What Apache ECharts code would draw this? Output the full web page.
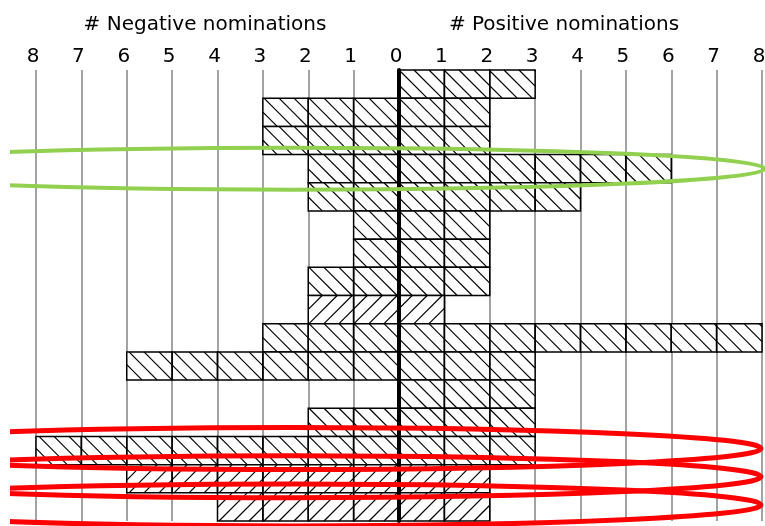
<!DOCTYPE html>
<html>
<head>
<meta charset="utf-8">
<script src="https://cdn.jsdelivr.net/npm/echarts@6/dist/echarts.min.js"></script>
<style>
  html, body { margin: 0; padding: 0; background: #fff; }
  #main { width: 765px; height: 526px; }
</style>
</head>
<body>
<div id="main"></div>
<script>
// one row per person, top to bottom
const rowNames = ['1', '2', '3', '4', '5', '6', '7', '8', '9', '10', '11', '12', '13', '14', '15', '16'];
const negativeNoms = [0, 3, 3, 2, 2, 1, 1, 2, 2, 3, 6, 0, 2, 8, 6, 4];
const positiveNoms = [3, 2, 2, 6, 4, 2, 2, 2, 1, 8, 3, 3, 3, 3, 2, 2];
// hatch direction per row: '\' or '/'
const hatchDir = ['\\', '\\', '\\', '\\', '\\', '\\', '\\', '\\', '/', '\\', '\\', '\\', '\\', '\\', '/', '/'];
// rows circled by hand on the original
const greenRows = [3];
const redRows = [13, 14, 15];

const chart = echarts.init(document.getElementById('main'));

const barData = rowNames.map((r, i) => [i, negativeNoms[i], positiveNoms[i], hatchDir[i] === '/' ? 1 : 0]);

function renderBar(params, api) {
  const row = api.value(0);
  const neg = api.value(1);
  const pos = api.value(2);
  const dir = api.value(3);
  const h = api.size([0, 1])[1];
  const yc = api.coord([0, row])[1];
  const top = yc - h / 2;
  const bottom = yc + h / 2;
  const xL = api.coord([-neg, row])[0];
  const xR = api.coord([pos, row])[0];
  const x0 = api.coord([0, row])[0];
  const step = 15;
  const children = [];
  // white background
  children.push({
    type: 'rect',
    shape: { x: xL, y: top, width: xR - xL, height: h },
    style: { fill: '#fff' }
  });
  // hatching
  let xs = x0 - Math.ceil((x0 - (xL - h)) / step) * step;
  for (; xs < xR; xs += step) {
    const ca = Math.max(xs, xL);
    const cb = Math.min(xs + h, xR);
    if (cb <= ca) continue;
    let y1, y2;
    if (dir === 0) {
      y1 = top + (ca - xs);
      y2 = top + (cb - xs);
    } else {
      y1 = bottom - (ca - xs);
      y2 = bottom - (cb - xs);
    }
    children.push({
      type: 'line',
      shape: { x1: ca, y1: y1, x2: cb, y2: y2 },
      style: { stroke: '#000', lineWidth: 1.2 }
    });
  }
  // unit cells
  for (let k = -neg; k < pos; k++) {
    const a = api.coord([k, row])[0];
    const b = api.coord([k + 1, row])[0];
    children.push({
      type: 'rect',
      shape: { x: a, y: top, width: b - a, height: h },
      style: { fill: null, stroke: '#000', lineWidth: 1.5 }
    });
  }
  return { type: 'group', children: children };
}

chart.setOption({
  animation: false,
  grid: { left: 36, right: 3, top: 70, bottom: 5, outerBoundsMode: 'none' },
  xAxis: {
    type: 'value',
    position: 'top',
    min: -8,
    max: 8,
    interval: 1,
    axisLine: { show: false },
    axisTick: { show: false },
    splitLine: { show: true, lineStyle: { color: '#8c8c8c', width: 1.6 } },
    axisLabel: {
      showMinLabel: true,
      showMaxLabel: true,
      formatter: (v) => String(Math.abs(v)),
      fontFamily: 'DejaVu Sans',
      fontSize: 20,
      color: '#000',
      margin: 3,
      padding: [0, 6, 0, 0]
    }
  },
  yAxis: {
    type: 'category',
    data: rowNames,
    inverse: true,
    z: 5,
    axisLine: { show: true, onZero: true, lineStyle: { color: '#000', width: 4 } },
    axisTick: { show: false },
    axisLabel: { show: false },
    splitLine: { show: false }
  },
  series: [{
    type: 'custom',
    renderItem: renderBar,
    encode: { y: 0, x: [1, 2] },
    data: barData
  }],
  graphic: [
    {
      type: 'text', x: 205, y: 25,
      style: { text: '# Negative nominations', fontFamily: 'DejaVu Sans', fontSize: 20, fill: '#000', align: 'center', verticalAlign: 'middle' }
    },
    {
      type: 'text', x: 564, y: 25,
      style: { text: '# Positive nominations', fontFamily: 'DejaVu Sans', fontSize: 20, fill: '#000', align: 'center', verticalAlign: 'middle' }
    }
  ]
});

// hand-drawn ellipses around highlighted rows
const ellipseCx = 294, ellipseRx = 471, ellipseRy = 21;
const rings = [];
greenRows.forEach((r) => {
  const cy = chart.convertToPixel({ yAxisIndex: 0 }, r);
  rings.push({ type: 'ellipse', z: 100, shape: { cx: ellipseCx, cy: cy, rx: ellipseRx, ry: ellipseRy },
    style: { fill: null, stroke: '#92d050', lineWidth: 4 } });
});
redRows.forEach((r) => {
  const cy = chart.convertToPixel({ yAxisIndex: 0 }, r) - 2;
  rings.push({ type: 'ellipse', z: 100, shape: { cx: ellipseCx - 2, cy: cy, rx: ellipseRx - 2, ry: ellipseRy },
    style: { fill: null, stroke: '#ff0000', lineWidth: 5 } });
});
rings.push({ type: 'rect', z: 101, shape: { x: 0, y: 0, width: 10, height: 526 }, style: { fill: '#fff' } });
chart.setOption({ graphic: chart.getOption().graphic[0].elements.concat(rings) });
</script>
</body>
</html>
